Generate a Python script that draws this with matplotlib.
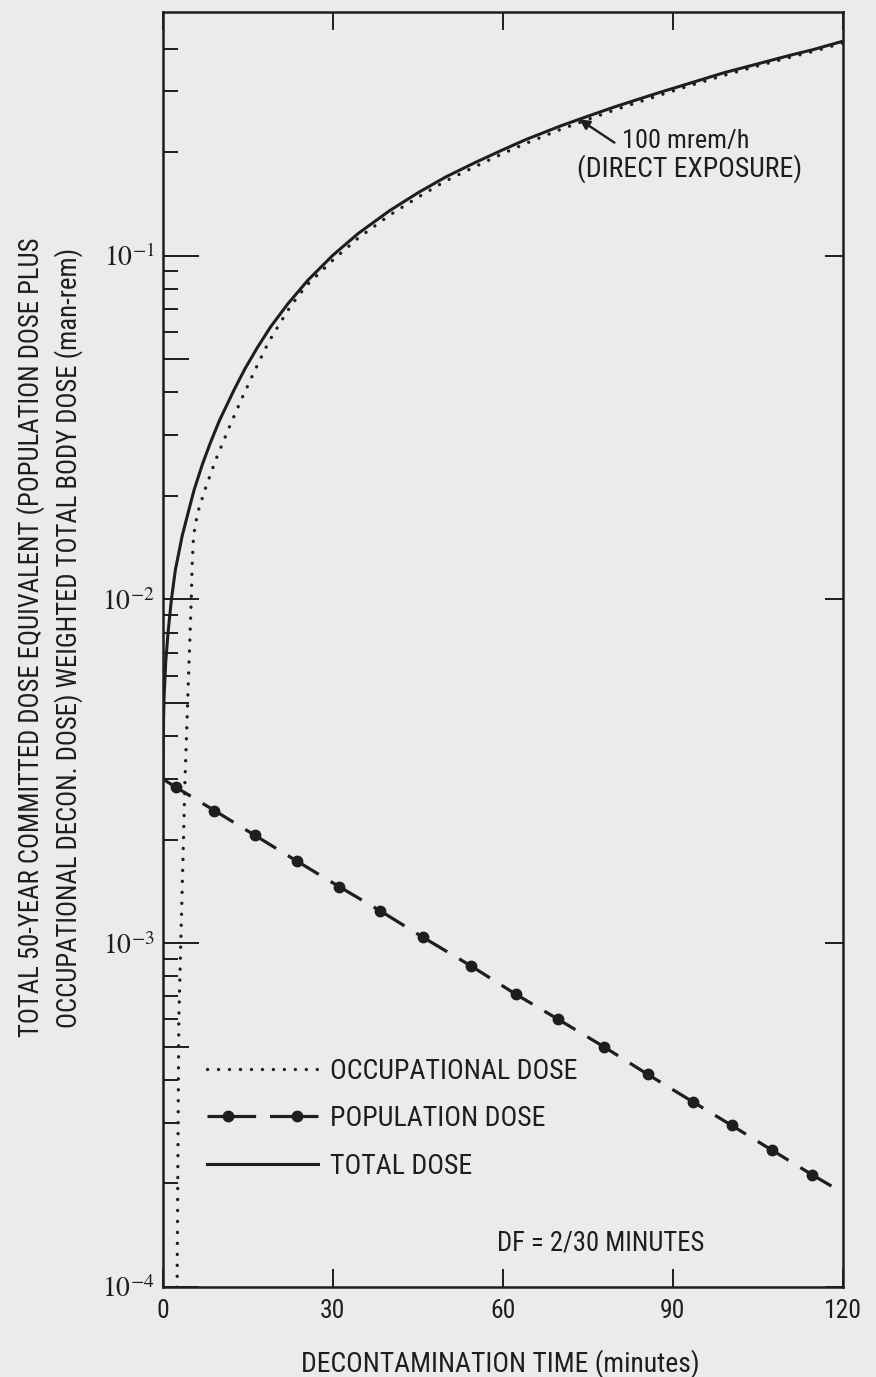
import matplotlib
matplotlib.use("Agg")
import matplotlib.pyplot as plt
from matplotlib.lines import Line2D
from matplotlib.legend_handler import HandlerLine2D, HandlerTuple
from matplotlib.font_manager import FontProperties, findfont
from matplotlib.ticker import LogLocator, NullFormatter, FixedLocator

# ---------------- data ----------------
occ_time = [2.45, 2.5, 2.8, 3.9, 4.6, 5.0, 5.15, 5.4, 6.1, 7.4, 9.3, 11.5, 13.8, 16.3,
            18.6, 20.9, 22.6, 25.4, 30, 34.5, 40, 45.1, 50, 55.3, 60, 64.1, 70, 74.8,
            80, 87.8, 93, 99, 105, 110.9, 115, 120]
occ_dose = [8e-5, 1.0e-4, 6e-4, 3.0e-3, 6.5e-3, 1.0e-2, 1.25e-2, 1.53e-2, 1.78e-2,
            2.08e-2, 2.54e-2, 3.11e-2, 3.8e-2, 4.66e-2, 5.58e-2, 6.45e-2, 7.15e-2,
            8.2e-2, 0.097, 0.1125, 0.131, 0.148, 0.165, 0.182, 0.198, 0.212, 0.232,
            0.248, 0.266, 0.293, 0.312, 0.334, 0.356, 0.378, 0.393, 0.415]

tot_time = [0, 0.05, 0.2, 0.5, 0.9, 1.5, 2.2, 3.4, 4.5, 5.5, 7.0, 8.4, 10, 12.6, 14.5,
            16.7, 19, 22, 25.6, 30, 34.5, 40, 45.1, 50, 55.3, 60, 64.1, 70, 74.8, 80,
            87.8, 93, 99, 105, 110.9, 115, 120]
tot_dose = [3.0e-3, 4.0e-3, 5.2e-3, 6.6e-3, 8.0e-3, 1.0e-2, 1.22e-2, 1.53e-2, 1.8e-2,
            2.08e-2, 2.48e-2, 2.86e-2, 3.32e-2, 4.08e-2, 4.69e-2, 5.41e-2, 6.2e-2,
            7.22e-2, 8.48e-2, 0.1002, 0.116, 0.135, 0.1525, 0.1695, 0.187, 0.203,
            0.2175, 0.2375, 0.2535, 0.2715, 0.2985, 0.317, 0.340, 0.361, 0.383, 0.398,
            0.42]

pop_time = [0, 2.3, 9.1, 16.2, 23.7, 31.1, 38.4, 45.9, 54.3, 62.3, 69.8, 77.8, 85.6,
            93.6, 100.4, 107.5, 114.6, 120]
pop_dose = [3.0e-3, 2.84e-3, 2.43e-3, 2.06e-3, 1.73e-3, 1.46e-3, 1.24e-3, 1.04e-3,
            8.6e-4, 7.1e-4, 6.0e-4, 5.0e-4, 4.15e-4, 3.45e-4, 2.95e-4, 2.5e-4, 2.12e-4,
            1.88e-4]

x_ticks = [0, 30, 60, 90, 120]
x_ticklabels = ["0", "30", "60", "90", "120"]
y_ticks = [1e-4, 1e-3, 1e-2, 1e-1]
y_ticklabels = [r"$10^{-4}$", r"$10^{-3}$", r"$10^{-2}$", r"$10^{-1}$"]
legend_labels = ["OCCUPATIONAL DOSE", "POPULATION DOSE", "TOTAL DOSE"]

# ---------------- font: prefer a condensed sans ----------------
def _try(kw, need=None):
    try:
        p = findfont(FontProperties(**kw), fallback_to_default=False)
    except Exception:
        return None
    if need and not any(n in p.lower() for n in need):
        return None
    return p

chosen = {"family": "DejaVu Sans", "stretch": "normal"}
for kw, need in [({"family": "Liberation Sans Narrow"}, None),
                 ({"family": "Roboto Condensed"}, None),
                 ({"family": "DejaVu Sans", "stretch": "condensed"}, ["condensed"]),
                 ({"family": "Noto Sans", "stretch": "condensed"}, ["condensed"]),
                 ({"family": "Open Sans", "stretch": "condensed"}, ["condensed"])]:
    if _try(kw, need):
        chosen = {"family": kw["family"], "stretch": kw.get("stretch", "normal")}
        break

plt.rcParams["font.family"] = [chosen["family"], "DejaVu Sans"]
plt.rcParams["font.stretch"] = chosen["stretch"]
plt.rcParams["mathtext.fontset"] = "stix"
plt.rcParams["lines.scale_dashes"] = False

INK = "#1e1e1e"
BG = "#ebebeb"

fig = plt.figure(figsize=(8.76, 13.77), dpi=100, facecolor=BG)
renderer = fig.canvas.get_renderer()


def fit_size(text, target_px, base=16.0, **kw):
    """Font size (pt) at which `text` is about target_px wide."""
    t = fig.text(0, 0, text, fontsize=base, **kw)
    w = t.get_window_extent(renderer).width
    t.remove()
    return base * target_px / w


ax = fig.add_axes([0.186, 0.0654, 0.776, 0.9257])
ax.set_facecolor(BG)
ax.set_yscale("log")
ax.set_xlim(0, 120)
ax.set_ylim(1e-4, 0.51)

# curves
ax.plot(occ_time, occ_dose, color=INK, lw=2.4, linestyle=(0, (0.1, 7.8)),
        dash_capstyle="round", solid_capstyle="round")
ax.plot(tot_time, tot_dose, color=INK, lw=2.2, solid_joinstyle="round")
ax.plot(pop_time, pop_dose, color=INK, lw=2.3, linestyle=(2.5, (26, 10)),
        marker="o", ms=7.5, markevery=list(range(1, len(pop_time) - 1)))

# axes decoration
for s in ax.spines.values():
    s.set_linewidth(1.8)
    s.set_color(INK)

tick_size = fit_size("120", 38)
ax.set_xticks(x_ticks)
ax.set_xticklabels(x_ticklabels)
ax.tick_params(axis="x", which="major", direction="in", length=13, width=1.4,
               top=True, bottom=True, colors=INK, labelsize=tick_size, pad=9)
ax.yaxis.set_major_locator(FixedLocator(y_ticks))
ax.set_yticklabels(y_ticklabels)
ax.yaxis.set_minor_locator(LogLocator(base=10, subs=(2, 3, 4, 6, 7, 8, 9)))
ax.yaxis.set_minor_formatter(NullFormatter())
ax.tick_params(axis="y", which="major", direction="in", length=26, width=1.4,
               left=True, right=False, colors=INK, labelsize=20, pad=6)
ax.tick_params(axis="y", which="minor", direction="in", length=11, width=1.4,
               left=True, right=False, colors=INK)

# right-side major ticks (shorter)
sec_r = ax.secondary_yaxis("right")
sec_r.set_yticks(y_ticks)
sec_r.tick_params(which="major", direction="in", length=13, width=1.4, colors=INK,
                  labelright=False)
sec_r.tick_params(which="minor", length=0)
sec_r.spines["right"].set_visible(False)

# left mid-decade (5x) ticks, longer than other minors
sec_l = ax.secondary_yaxis("left")
sec_l.set_yticks([5e-4, 5e-3, 5e-2])
sec_l.tick_params(which="major", direction="in", length=19, width=1.4, colors=INK,
                  labelleft=False)
sec_l.tick_params(which="minor", length=0)
sec_l.spines["left"].set_visible(False)

# legend
leg_size = fit_size(legend_labels[0], 248)
h_occ = Line2D([], [], color=INK, lw=2.4, linestyle=(0, (0.1, 7.8)), dash_capstyle="round")
h_pop_line = Line2D([], [], color=INK, lw=2.3, linestyle=(0, (35, 10)))
h_pop_mark = Line2D([], [], color=INK, linestyle="none", marker="o", ms=7.5)
h_tot = Line2D([], [], color=INK, lw=2.2)
row_pt = 47 * 0.72  # row pitch in the reference, points
leg = ax.legend([h_occ, (h_pop_line, h_pop_mark), h_tot], legend_labels,
                loc="upper left", bbox_to_anchor=(0.0645, 0.180), frameon=False,
                fontsize=leg_size, handlelength=80 / leg_size,
                handletextpad=8.6 / leg_size,
                labelspacing=max(0.1, (row_pt - 1.2 * leg_size + 5.0) / leg_size),
                borderpad=0, borderaxespad=0, numpoints=2,
                handler_map={Line2D: HandlerLine2D(marker_pad=0, numpoints=2),
                             h_pop_mark: HandlerLine2D(marker_pad=15.0 / leg_size,
                                                       numpoints=2),
                             tuple: HandlerTuple(ndivide=1, pad=0)})
for t in leg.get_texts():
    t.set_color(INK)

# annotations
ax.annotate("", xy=(73.5, 0.249), xytext=(79.7, 0.213),
            arrowprops=dict(arrowstyle="-|>", lw=1.7, color=INK, mutation_scale=15,
                            shrinkA=0, shrinkB=0))
ax.text(0.769, 0.899, "100 mrem/h", transform=ax.transAxes, ha="center",
        va="center", fontsize=fit_size("100 mrem/h", 128), color=INK)
ax.text(0.775, 0.877, "(DIRECT EXPOSURE)", transform=ax.transAxes, ha="center",
        va="center", fontsize=fit_size("(DIRECT EXPOSURE)", 226), color=INK)
ax.text(0.644, 0.0345, "DF = 2/30 MINUTES", transform=ax.transAxes, ha="center",
        va="center", fontsize=fit_size("DF = 2/30 MINUTES", 208), color=INK)

# axis titles
xl = "DECONTAMINATION TIME (minutes)"
fig.text(0.571, 0.0095, xl, ha="center", va="center",
         fontsize=fit_size(xl, 400), color=INK)
yl1 = "TOTAL 50-YEAR COMMITTED DOSE EQUIVALENT (POPULATION DOSE PLUS"
yl2 = "OCCUPATIONAL DECON. DOSE) WEIGHTED TOTAL BODY DOSE (man-rem)"
fig.text(0.057, 0.537, yl1 + "\n" + yl2,
         rotation=90, ha="center", va="center", multialignment="center",
         fontsize=fit_size(yl1, 805), linespacing=1.4, color=INK)

fig.savefig("out.png", dpi=100, facecolor=BG)
